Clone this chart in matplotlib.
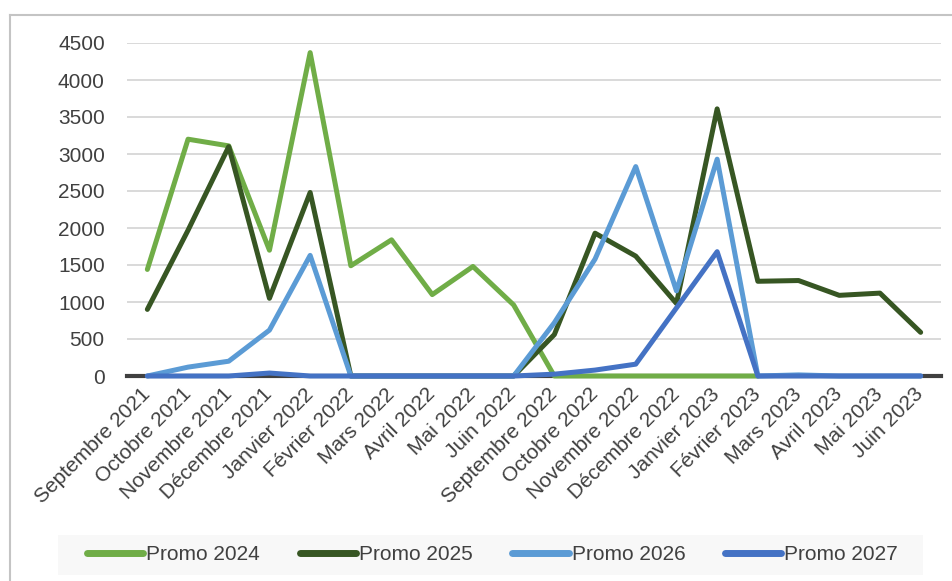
import matplotlib.pyplot as plt
from matplotlib.lines import Line2D
from matplotlib.patches import Rectangle
import numpy as np

plt.rcParams['font.family'] = ['Liberation Sans', 'DejaVu Sans']

months = ['Septembre 2021', 'Octobre 2021', 'Novembre 2021', 'Décembre 2021',
          'Janvier 2022', 'Février 2022', 'Mars 2022', 'Avril 2022', 'Mai 2022',
          'Juin 2022', 'Septembre 2022', 'Octobre 2022', 'Novembre 2022',
          'Décembre 2022', 'Janvier 2023', 'Février 2023', 'Mars 2023',
          'Avril 2023', 'Mai 2023', 'Juin 2023']

nan = np.nan
promo_2024 = [1440, 3200, 3110, 1700, 4370, 1490, 1840, 1100, 1480, 960,
              0, 0, 0, 0, 0, 0, nan, nan, nan, nan]
promo_2025 = [900, 1970, 3100, 1050, 2480, 0, 0, 0, 0, 0,
              560, 1930, 1620, 980, 3610, 1280, 1290, 1090, 1120, 590]
promo_2026 = [0, 120, 200, 620, 1630, 0, 0, 0, 0, 0,
              720, 1580, 2830, 1150, 2930, 0, 15, 0, 0, 0]
promo_2027 = [0, 0, 0, 40, 0, 0, 0, 0, 0, 0,
              25, 80, 160, 920, 1680, 0, 0, 0, 0, 0]

series = [('Promo 2024', promo_2024, '#70ad47'),
          ('Promo 2025', promo_2025, '#375623'),
          ('Promo 2026', promo_2026, '#5b9bd5'),
          ('Promo 2027', promo_2027, '#4472c4')]

text_col = '#404040'

fig = plt.figure(figsize=(9.52, 5.81), dpi=100)
ax = fig.add_axes([127/952, 1-376/581, (941-127)/952, (376-43)/581])

x = np.arange(len(months))
handles = []
for name, vals, col in series:
    ln, = ax.plot(x, vals, color=col, lw=3.6, solid_capstyle='round',
                  solid_joinstyle='round', clip_on=False, zorder=3, label=name)
    handles.append(ln)

ax.set_xlim(-0.5, len(months) - 0.5)
ax.set_ylim(0, 4500)
ax.set_yticks(np.arange(0, 4501, 500))
ax.yaxis.grid(True, color='#d9d9d9', lw=1.4)
ax.set_axisbelow(True)
for s in ['top', 'right', 'left']:
    ax.spines[s].set_visible(False)
ax.spines['bottom'].set_color('#404040')
ax.spines['bottom'].set_linewidth(3)
ax.spines['bottom'].set_zorder(2)

ax.set_xticks(x)
ax.set_xticklabels(months, rotation=45, ha='right', va='center',
                   rotation_mode='anchor')
ax.tick_params(axis='x', length=0, pad=11, labelsize=15, labelcolor=text_col)
ax.tick_params(axis='y', length=0, pad=16, labelsize=15, labelcolor=text_col)

# legend background
fig.patches.append(Rectangle((58/952, 1-575/581), (923-58)/952, 40/581,
                             transform=fig.transFigure, facecolor='#f8f8f8',
                             edgecolor='none', zorder=0))
leg = fig.legend(handles=handles, loc='center', bbox_to_anchor=(0.5173, 0.045),
                 ncol=4, frameon=False, fontsize=15, handlelength=2.7,
                 handletextpad=0.15, columnspacing=1.9)
for t in leg.get_texts():
    t.set_color(text_col)
for h in leg.legend_handles:
    h.set_linewidth(5)
    h.set_solid_capstyle('round')

# chart frame (partially visible)
fig.add_artist(Line2D([9.5/952, 9.5/952], [0, 1-15/581], color='#c4c4c4', lw=1.5,
                      transform=fig.transFigure))
fig.add_artist(Line2D([9.5/952, 1], [1-15/581, 1-15/581], color='#c4c4c4', lw=1.5,
                      transform=fig.transFigure))

fig.savefig('out.png', dpi=100)
